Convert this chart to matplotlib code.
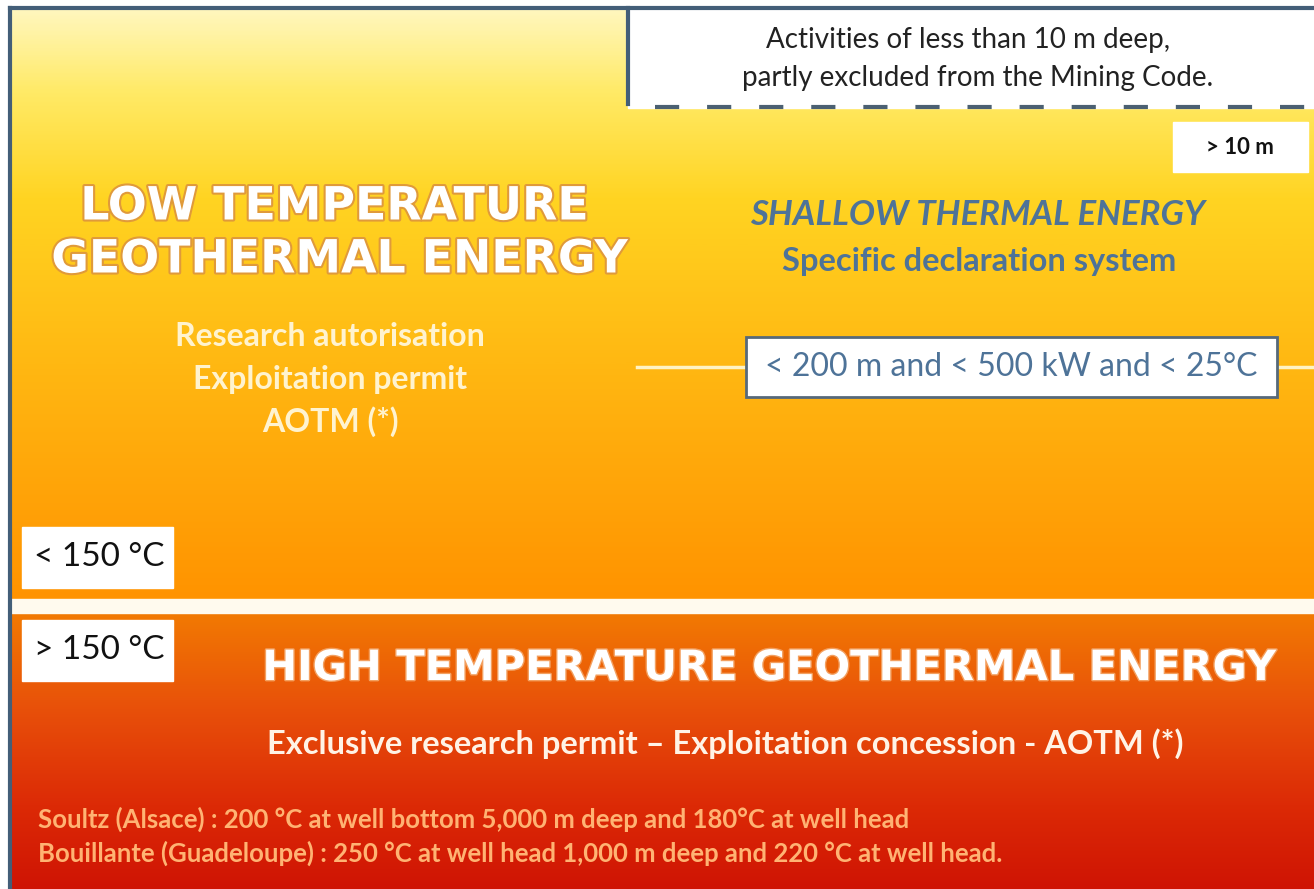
import numpy as np
import matplotlib
matplotlib.use("Agg")
import matplotlib.pyplot as plt
import matplotlib.patheffects as pe
from matplotlib.colors import LinearSegmentedColormap
from matplotlib.patches import Rectangle

# ---------------- texts ----------------
excluded_note = ["Activities of less than 10 m deep,",
                 "partly excluded from the Mining Code."]
depth_label = "> 10 m"
low_title = ["LOW TEMPERATURE", "GEOTHERMAL ENERGY"]
low_regime = ["Research autorisation", "Exploitation permit", "AOTM (*)"]
shallow_title = "SHALLOW THERMAL ENERGY"
shallow_sub = "Specific declaration system"
shallow_criteria = "< 200 m and < 500 kW and < 25°C"
temp_labels = ["< 150 °C", "> 150 °C"]
high_title = "HIGH TEMPERATURE GEOTHERMAL ENERGY"
high_regime = "Exclusive research permit – Exploitation concession - AOTM (*)"
examples = ["Soultz (Alsace) : 200 °C at well bottom 5,000 m deep and 180°C at well head",
            "Bouillante (Guadeloupe) : 250 °C at well head 1,000 m deep and 220 °C at well head."]

# gradient stops (position 0..1 from top, colour)
low_stops = [(0.0, "#FFF7BE"), (0.14, "#FFEA66"), (0.32, "#FFD422"),
             (0.6, "#FFB812"), (1.0, "#FF9300")]
high_stops = [(0.0, "#F27A02"), (0.35, "#E8500A"), (0.7, "#DC2A06"), (1.0, "#CF1404")]

W, H = 1314, 889
BORDER = "#435E78"
BLUE_TXT = "#4E7398"

fig = plt.figure(figsize=(W / 100, H / 100), dpi=100)
ax = fig.add_axes([0, 0, 1, 1])
ax.set_xlim(0, W)
ax.set_ylim(H, 0)
ax.axis("off")


def vgradient(stops, x0, x1, y0, y1):
    cmap = LinearSegmentedColormap.from_list("g", stops)
    grad = np.linspace(0, 1, 400)[:, None]
    img = cmap(grad)[:, :, :3]
    ax.imshow(img, extent=[x0, x1, y1, y0], aspect="auto",
              interpolation="bilinear", zorder=0)


vgradient(low_stops, 10, W, 8, 600)
ax.add_patch(Rectangle((10, 599), W - 10, 14, color="#FFFAEE", zorder=1))
vgradient(high_stops, 10, W, 612, H)

# outer frame
ax.plot([10, 10], [8, H], color=BORDER, lw=3, zorder=5, solid_capstyle="projecting")
ax.plot([10, W], [8, 8], color=BORDER, lw=3, zorder=5, solid_capstyle="projecting")

# top-right white box (shallow < 10 m)
ax.add_patch(Rectangle((628, 8), W - 628, 100, color="white", zorder=2))
ax.plot([628, 628], [8, 104], color=BORDER, lw=3, zorder=5)
ax.plot([655, W], [107, 107], color="#4B6072", lw=3, ls=(0, (5.8, 6.7)), zorder=5)
ax.text(968, 40, excluded_note[0], fontsize=20, family="Lato",
        color="#222222", ha="center", va="center", zorder=6)
ax.text(978, 78, excluded_note[1], fontsize=20, family="Lato",
        color="#222222", ha="center", va="center", zorder=6)

# > 10 m tag
ax.add_patch(Rectangle((1173, 122), 135, 50, color="white", zorder=3))
ax.text(1240, 148, depth_label, fontsize=16, family="Lato", weight="bold",
        color="#111111", ha="center", va="center", zorder=6)

# low temperature block
outline = [pe.Stroke(linewidth=3, foreground="#E09A3A"), pe.Normal()]
ax.text(335, 207, low_title[0], fontsize=33, family="DejaVu Sans", weight="bold",
        color="white", ha="center", va="center", path_effects=outline, zorder=6)
ax.text(340, 260, low_title[1], fontsize=33, family="DejaVu Sans", weight="bold",
        color="white", ha="center", va="center", path_effects=outline, zorder=6)
for i, line in enumerate(low_regime):
    ax.text(330, 336 + i * 43, line, fontsize=23, family="Lato", weight="bold",
            color="#FFF3CF", ha="center", va="center", zorder=6)

# shallow thermal energy block
ax.text(978, 215, shallow_title, fontsize=25, family="Lato", weight="bold",
        style="italic", color=BLUE_TXT, ha="center", va="center", zorder=6)
ax.text(979, 262, shallow_sub, fontsize=23.5, family="Lato", weight="bold",
        color=BLUE_TXT, ha="center", va="center", zorder=6)
ax.plot([637, 746], [367, 367], color="#FFF3C4", lw=2.5, zorder=4)
ax.plot([1277, W], [367, 367], color="#FFF3C4", lw=2.5, zorder=4)
ax.add_patch(Rectangle((746, 337), 531, 60, facecolor="white",
                       edgecolor="#56697A", lw=2, zorder=5))
ax.text(1011, 367, shallow_criteria, fontsize=23, family="Lato",
        color=BLUE_TXT, ha="center", va="center", zorder=6)

# temperature thresholds
for y, lab in zip([527, 620], temp_labels):
    ax.add_patch(Rectangle((22, y), 151, 61, color="white", zorder=5))
    ax.text(99, y + 30, lab, fontsize=24, family="Lato", color="#111111",
            ha="center", va="center", zorder=6)

# high temperature block
glow = [pe.Stroke(linewidth=2, foreground="#F3A060"), pe.Normal()]
ax.text(770, 668, high_title, fontsize=30, family="DejaVu Sans", weight="bold",
        color="white", ha="center", va="center", path_effects=glow, zorder=6)
ax.text(725, 744, high_regime, fontsize=23.5, family="Lato", weight="bold",
        color="#FFF3E6", ha="center", va="center", zorder=6)
for i, line in enumerate(examples):
    ax.text(38, 819 + i * 34, line, fontsize=18.5, family="Lato", weight="bold",
            color="#FFB373", ha="left", va="center", zorder=6)

fig.savefig("out.png", dpi=100)
